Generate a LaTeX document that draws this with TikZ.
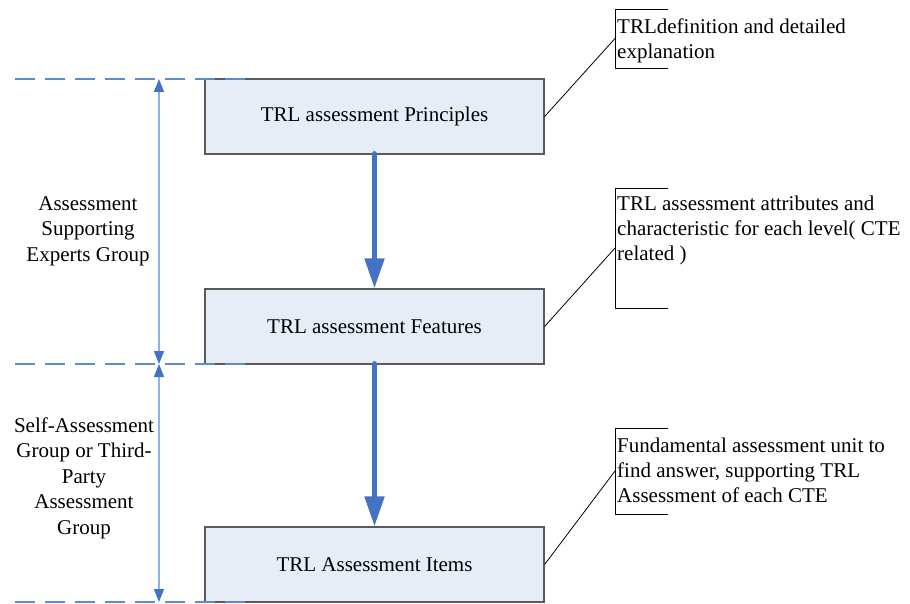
\documentclass[tikz,border=0pt]{standalone}
\usepackage{fontspec}
\setmainfont{LiberationSerif}[Extension=.ttf, UprightFont=*-Regular, BoldFont=*-Bold, ItalicFont=*-Italic, BoldItalicFont=*-BoldItalic]
\usetikzlibrary{arrows.meta}

\definecolor{boxfill}{HTML}{E7EDF7}
\definecolor{boxline}{HTML}{5A5A5A}
\definecolor{flowblue}{HTML}{4472C4}
\definecolor{dashblue}{HTML}{5B8BD0}
\definecolor{spanblue}{HTML}{8DB3E2}

\tikzset{
  stagebox/.style={draw=boxline, line width=1.2bp, fill=boxfill,
    minimum width=339bp, minimum height=75bp, inner sep=0pt,
    font=\fontsize{21bp}{25bp}\selectfont},
  flowarrow/.style={draw=flowblue, line width=5bp, line cap=round,
    -{Triangle[width=19bp,length=30bp,line cap=butt]}},
  levelline/.style={draw=dashblue, line width=1.5bp, dash pattern=on 20bp off 10bp},
  spanarrow/.style={draw=spanblue, line width=1.5bp,
    {Triangle[width=10bp,length=13bp,color=flowblue]}-{Triangle[width=10bp,length=13bp,color=flowblue]}},
  grouplabel/.style={align=center, inner sep=0pt, font=\fontsize{21bp}{25.5bp}\selectfont},
  notetext/.style={align=left, anchor=north west, inner sep=0pt,
    font=\fontsize{21bp}{25bp}\selectfont},
  bracket/.style={draw=black, line width=0.8bp},
  leader/.style={draw=black, line width=0.8bp},
}

\begin{document}
\begin{tikzpicture}[x=1bp, y=-1bp]
  \useasboundingbox (0,0) rectangle (910,604);

  % stages
  \node[stagebox] (b1) at (374.5,116.5) {TRL assessment Principles};
  \node[stagebox] (b2) at (374.5,326.5) {TRL assessment Features};
  \node[stagebox] (b3) at (374.5,564.5) {TRL Assessment Items};

  \draw[flowarrow] ([yshift=1bp]b1.south) -- (b2.north);
  \draw[flowarrow] ([yshift=1bp]b2.south) -- (b3.north);

  % level separators, drawn across the box corners
  \coordinate (l1a) at (15,79);  \coordinate (l1b) at (245,79);
  \coordinate (l2a) at (15,364); \coordinate (l2b) at (245,364);
  \coordinate (l3a) at (15,602); \coordinate (l3b) at (245,602);
  \draw[levelline] (l1a) -- (l1b);
  \draw[levelline] (l2a) -- (l2b);
  \draw[levelline] (l3a) -- (l3b);

  % group spans
  \coordinate (s1) at (159,79);
  \coordinate (s2) at (159,364);
  \coordinate (s3) at (159,602);
  \draw[spanarrow] (s2) -- (s1);
  \draw[spanarrow] (s3) -- (s2);

  \node[grouplabel] (g1) at (88,231) {Assessment\\Supporting\\Experts Group};
  \node[grouplabel] (g2) at (84,478) {Self-Assessment\\Group or Third-\\Party\\Assessment\\Group};

  % annotations
  \node[notetext] (n1) at (617,18.5) {TRLdefinition and detailed\\explanation};
  \draw[bracket] (668,9) -- (615,9) -- (615,68) -- (668,68);
  \coordinate (k1) at (615,38.5);
  \draw[leader] (b1.east) -- (k1);

  \node[notetext] (n2) at (617,195.7) {TRL assessment attributes and\\characteristic for each level( CTE\\related )};
  \draw[bracket] (668,188) -- (615,188) -- (615,308) -- (668,308);
  \coordinate (k2) at (615,248);
  \draw[leader] (b2.east) -- (k2);

  \node[notetext] (n3) at (617,437.7) {Fundamental assessment unit to\\find answer, supporting TRL\\Assessment of each CTE};
  \draw[bracket] (668,428) -- (615,428) -- (615,514) -- (668,514);
  \coordinate (k3) at (615,471);
  \draw[leader] (b3.east) -- (k3);
\end{tikzpicture}
\end{document}
